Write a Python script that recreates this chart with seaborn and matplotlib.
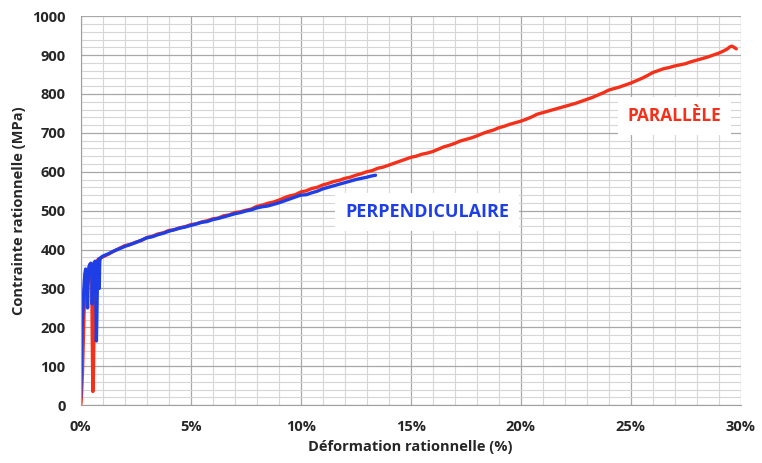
import numpy as np
import pandas as pd
import matplotlib
matplotlib.use("Agg")
import matplotlib.pyplot as plt
import matplotlib.ticker as mticker
import seaborn as sns

# strain (%) / stress (MPa)
par_x = [0.0, 0.03, 0.08, 0.12, 0.15, 0.2, 0.28, 0.35, 0.42, 0.47, 0.5, 0.52, 0.55, 0.57, 0.6, 0.63,
         0.66, 0.7, 0.75, 0.8, 0.9, 1.0, 1.25, 1.5, 1.75, 2.0, 2.25, 2.5, 2.75, 3.0, 3.25, 3.5, 3.75,
         4.0, 4.25, 4.5, 4.75, 5.0, 5.25, 5.5, 5.75, 6.0, 6.25, 6.5, 6.75, 7.0, 7.25, 7.5, 7.75,
         8.0, 8.25, 8.5, 8.75, 9.0, 9.25, 9.5, 9.75, 10.0, 10.25, 10.5, 10.75, 11.0, 11.25, 11.5,
         11.75, 12.0, 12.25, 12.5, 12.75, 13.0, 13.25, 13.5, 13.75, 14.0, 14.25, 14.5, 14.75, 15.0,
         15.25, 15.5, 15.75, 16.0, 16.25, 16.5, 16.75, 17.0, 17.25, 17.5, 17.75, 18.0, 18.25, 18.5,
         18.75, 19.0, 19.25, 19.5, 19.75, 20.0, 20.25, 20.5, 20.75, 21.0, 21.25, 21.5, 21.75, 22.0,
         22.25, 22.5, 22.75, 23.0, 23.25, 23.5, 23.75, 24.0, 24.25, 24.5, 24.75, 25.0, 25.25, 25.5,
         25.75, 26.0, 26.25, 26.5, 26.75, 27.0, 27.25, 27.5, 27.75, 28.0, 28.25, 28.5, 28.75, 29.0,
         29.2, 29.4, 29.5, 29.6, 29.7, 29.8]
par_y = [0, 20, 90, 170, 240, 300, 335, 352, 362, 360, 330, 180, 35, 60, 200, 330,
         362, 368, 372, 375, 378, 381, 388, 396, 403, 410, 413, 419, 423, 431, 434, 440, 443,
         449, 451, 456, 459, 464, 466, 471, 474, 479, 481, 487, 489, 495, 497, 501, 504,
         511, 514, 519, 522, 527, 533, 538, 541, 548, 551, 557, 560, 566, 570, 575, 578,
         583, 586, 591, 595, 600, 603, 609, 612, 617, 622, 627, 632, 637, 640, 645, 648,
         652, 658, 664, 668, 673, 679, 683, 687, 692, 698, 703, 707, 713, 717, 722, 726,
         730, 735, 741, 748, 752, 756, 760, 764, 768, 772, 776, 781, 786, 791, 797, 803,
         810, 814, 818, 823, 828, 834, 840, 847, 855, 860, 865, 868, 872, 875, 878, 883,
         887, 891, 895, 900, 905, 910, 916, 921, 923, 920, 916]

perp_x = [0.0, 0.03, 0.06, 0.1, 0.14, 0.18, 0.22, 0.26, 0.29, 0.31, 0.33, 0.36, 0.4, 0.45, 0.5,
          0.52, 0.55, 0.6, 0.65, 0.68, 0.71, 0.73, 0.76, 0.79, 0.82, 0.84, 0.86, 0.88, 0.9, 1.0,
          1.25, 1.5, 1.75, 2.0, 2.25, 2.5, 2.75, 3.0, 3.25, 3.5, 3.75, 4.0, 4.25, 4.5, 4.75, 5.0,
          5.25, 5.5, 5.75, 6.0, 6.25, 6.5, 6.75, 7.0, 7.25, 7.5, 7.75, 8.0, 8.25, 8.5, 8.75, 9.0,
          9.25, 9.5, 9.75, 10.0, 10.25, 10.5, 10.75, 11.0, 11.25, 11.5, 11.75, 12.0, 12.25, 12.5,
          12.75, 13.0, 13.2, 13.4]
perp_y = [20, 120, 200, 250, 300, 335, 350, 330, 270, 250, 300, 345, 360, 365, 350,
          260, 330, 366, 370, 300, 165, 220, 330, 372, 376, 300, 365, 376, 379, 383,
          389, 396, 402, 408, 413, 418, 424, 430, 433, 438, 442, 447, 451, 455, 458, 462,
          466, 470, 472, 477, 480, 484, 488, 492, 495, 499, 502, 507, 510, 512, 516, 520,
          525, 530, 535, 540, 541, 546, 550, 556, 560, 564, 568, 572, 576, 580,
          583, 586, 589, 591]

par = pd.DataFrame({"x": par_x, "y": par_y})
perp = pd.DataFrame({"x": perp_x, "y": perp_y})

sns.set_style("white")
plt.rcParams["font.family"] = ["Open Sans", "DejaVu Sans"]

fig, ax = plt.subplots(figsize=(7.62, 4.63), dpi=100)
fig.subplots_adjust(left=0.106, right=0.972, bottom=0.125, top=0.965)

red = "#f5301a"
blue = "#1f3fe6"
sns.lineplot(data=par, x="x", y="y", sort=False, estimator=None, color=red, lw=2.4, ax=ax)
sns.lineplot(data=perp, x="x", y="y", sort=False, estimator=None, color=blue, lw=2.4, ax=ax)

ax.set_xlim(0, 30)
ax.set_ylim(0, 1000)
ax.xaxis.set_major_locator(mticker.MultipleLocator(5))
ax.xaxis.set_minor_locator(mticker.MultipleLocator(1))
ax.yaxis.set_major_locator(mticker.MultipleLocator(100))
ax.yaxis.set_minor_locator(mticker.MultipleLocator(20))
ax.xaxis.set_major_formatter(mticker.FuncFormatter(lambda v, p: f"{v:.0f}%"))

ax.grid(which="major", color="#a8a8a8", lw=0.9)
ax.grid(which="minor", color="#d6d6d6", lw=0.8)
ax.set_axisbelow(True)
for s in ["top", "right"]:
    ax.spines[s].set_visible(False)
for s in ["left", "bottom"]:
    ax.spines[s].set_color("#a0a0a0")

ax.tick_params(which="major", length=5, color="#a0a0a0", labelsize=10.5, pad=6)
ax.tick_params(which="minor", length=0)
for lab in ax.get_xticklabels() + ax.get_yticklabels():
    lab.set_fontweight("bold")

ax.set_xlabel("Déformation rationnelle (%)", fontsize=10.5, fontweight="bold")
ax.set_ylabel("Contrainte rationnelle (MPa)", fontsize=10.5, fontweight="bold")

box = dict(facecolor="white", edgecolor="none", pad=7)
ax.text(15.75, 496, "PERPENDICULAIRE", color=blue, fontsize=13, fontweight="bold",
        ha="center", va="center", bbox=box)
ax.text(27.0, 743, "PARALLÈLE", color=red, fontsize=12.5, fontweight="bold",
        ha="center", va="center", bbox=box)

fig.savefig("out.png", dpi=100)
